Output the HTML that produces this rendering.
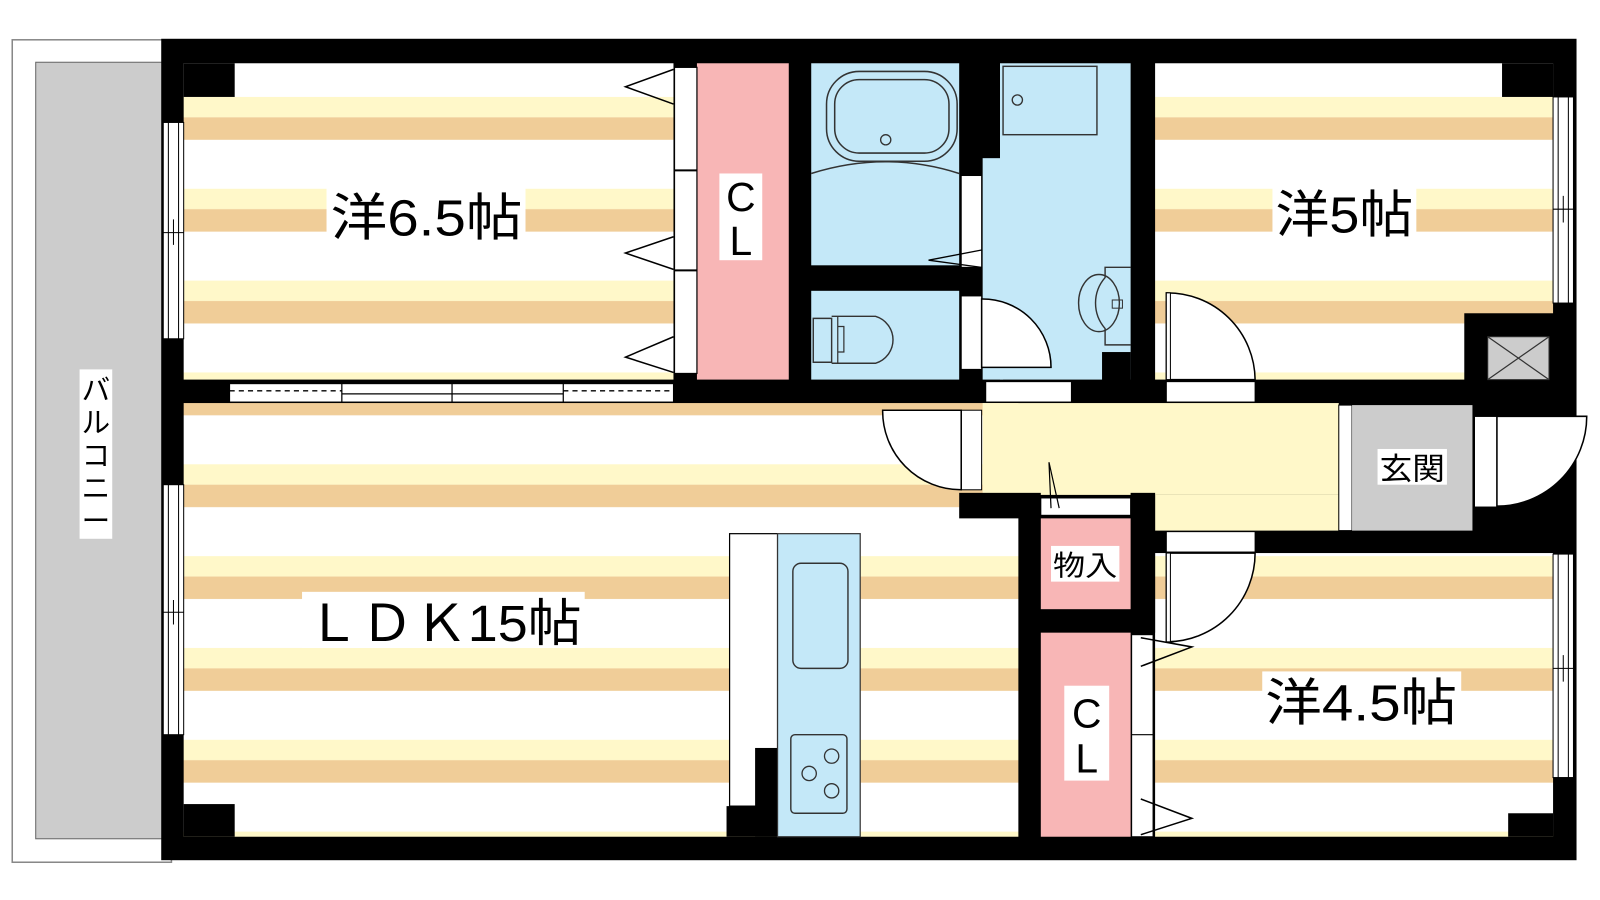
<!DOCTYPE html>
<html><head><meta charset="utf-8"><style>
html,body{margin:0;padding:0;background:#fff;width:1600px;height:900px;overflow:hidden}
svg{display:block}
text{font-family:"Liberation Sans","Noto Sans CJK JP",sans-serif;fill:#000}
</style></head><body>
<svg width="1600" height="900" viewBox="0 0 1568 882" xmlns="http://www.w3.org/2000/svg">
<defs>
<pattern id="s" x="0" y="5" width="20" height="90" patternUnits="userSpaceOnUse">
<rect x="0" y="0" width="20" height="90" fill="#fff"/>
<rect x="0" y="0" width="20" height="20" fill="#FFF8C9"/>
<rect x="0" y="20" width="20" height="22" fill="#F0CD98"/>
</pattern>
</defs>
<!-- balcony -->
<rect x="12" y="39" width="156" height="806" fill="#fff" stroke="#888" stroke-width="1.5"/>
<rect x="35" y="61" width="125" height="761" fill="#ccc" stroke="#666" stroke-width="1"/>
<rect x="78" y="362" width="32" height="166" fill="#fff"/>
<text font-size="28" x="94" y="392" text-anchor="middle">バ</text>
<text font-size="28" x="94" y="424" text-anchor="middle">ル</text>
<text font-size="28" x="94" y="456" text-anchor="middle">コ</text>
<text font-size="28" x="94" y="488" text-anchor="middle">ニ</text>
<text font-size="28" x="94" y="520" text-anchor="middle">ー</text>

<!-- black base -->
<rect x="158" y="38" width="1387" height="805" fill="#000"/>

<!-- room 6.5 -->
<rect x="180" y="62" width="480" height="310" fill="url(#s)"/>
<rect x="180" y="62" width="50" height="33" fill="#000"/>
<!-- LDK -->
<rect x="180" y="395" width="818" height="425" fill="url(#s)"/>
<rect x="180" y="788" width="50" height="32" fill="#000"/>
<!-- room 5 -->
<rect x="1132" y="62" width="390" height="310" fill="url(#s)"/>
<rect x="1472" y="62" width="50" height="33" fill="#000"/>
<rect x="1435" y="307" width="90" height="88" fill="#000"/>
<rect x="1458" y="330" width="60" height="42" fill="#ccc" stroke="#333"/>
<path d="M1458 330 L1518 372 M1518 330 L1458 372" stroke="#333" stroke-width="1.2"/>
<!-- room 4.5 -->
<rect x="1132" y="542" width="390" height="278" fill="url(#s)"/>
<rect x="1478" y="797" width="44" height="23" fill="#000"/>

<!-- CL 1 -->
<rect x="683" y="62" width="90" height="310" fill="#F8B6B6"/>
<rect x="661" y="66" width="22" height="300" fill="#fff" stroke="#000" stroke-width="1.2"/>
<path d="M661 167 H683 M661 265 H683" stroke="#000" stroke-width="2"/>
<polyline points="660,68 613,85 660,102" fill="none" stroke="#000" stroke-width="1.5"/>
<polyline points="660,232 613,248 660,264" fill="none" stroke="#000" stroke-width="1.5"/>
<polyline points="660,330 613,350 660,365" fill="none" stroke="#000" stroke-width="1.5"/>

<!-- bath -->
<rect x="795" y="62" width="145" height="198" fill="#C4E8F8"/>
<rect x="810" y="70" width="128" height="88" rx="32" fill="none" stroke="#333" stroke-width="1.5"/>
<rect x="818" y="78" width="112" height="72" rx="24" fill="none" stroke="#333" stroke-width="1.5"/>
<circle cx="868" cy="137" r="5" fill="none" stroke="#333" stroke-width="1.3"/>
<path d="M795 170 Q868 147 940 170" fill="none" stroke="#333" stroke-width="1.5"/>
<rect x="942" y="172" width="20" height="90" fill="#fff" stroke="#000" stroke-width="1"/>
<polyline points="962,245 910,255 962,262" fill="none" stroke="#000" stroke-width="1.3"/>
<!-- toilet -->
<rect x="795" y="285" width="145" height="87" fill="#C4E8F8"/>
<path d="M797 312 H815 V355 H797 Z" fill="none" stroke="#333" stroke-width="1.4"/>
<path d="M815 310 H858 A24 24 0 0 1 858 356 H815" fill="none" stroke="#333" stroke-width="1.4"/>
<path d="M821 310 V356 M821 320 H827 V345 H821" fill="none" stroke="#333" stroke-width="1.2"/>
<!-- washroom -->
<rect x="980" y="62" width="128" height="310" fill="#C4E8F8"/>
<rect x="963" y="155" width="20" height="217" fill="#C4E8F8"/>
<rect x="983" y="65" width="92" height="67" fill="none" stroke="#333" stroke-width="1.4"/>
<circle cx="997" cy="98" r="5" fill="none" stroke="#333" stroke-width="1.3"/>
<path d="M1108 262 H1083 V272 A38 38 0 0 0 1083 322 V338 H1108" fill="none" stroke="#333" stroke-width="1.4"/>
<ellipse cx="1077" cy="297" rx="20" ry="28" fill="none" stroke="#333" stroke-width="1.4"/>
<rect x="1090" y="294" width="10" height="8" fill="none" stroke="#333"/>
<rect x="1080" y="345" width="28" height="30" fill="#000"/>
<!-- toilet door -->
<rect x="942" y="290" width="20" height="72" fill="#fff" stroke="#000" stroke-width="1"/>
<path d="M962 293 A67 67 0 0 1 1030 360 L962 360 Z" fill="#fff" stroke="#000" stroke-width="1.5"/>
<path d="M962 293 V360" stroke="#000" stroke-width="1"/>

<!-- horizontal wall openings -->
<rect x="225" y="376" width="435" height="18" fill="#fff" stroke="#000" stroke-width="1"/>
<path d="M225 383 H335 M552 383 H660" stroke="#000" stroke-width="1.3" stroke-dasharray="5,4"/>
<path d="M335 376 V394 M443 376 V394 M552 376 V394 M335 386 H552" stroke="#000" stroke-width="1.2"/>
<rect x="966" y="374" width="84" height="20" fill="#fff" stroke="#000" stroke-width="1"/>
<rect x="1143" y="374" width="87" height="20" fill="#fff" stroke="#000" stroke-width="1"/>
<!-- room5 door -->
<path d="M1143 287 A86 86 0 0 1 1230 372 L1143 372 Z" fill="#fff" stroke="#000" stroke-width="1.5"/>
<rect x="1143" y="287" width="4" height="85" fill="#fff" stroke="#000" stroke-width="1"/>

<!-- left windows -->
<rect x="160" y="120" width="20" height="212" fill="#fff" stroke="#000" stroke-width="1"/>
<path d="M165 120 V332 M175 120 V332 M160 228 H180 M170 215 V240" stroke="#000" stroke-width="1"/>
<rect x="160" y="475" width="20" height="245" fill="#fff" stroke="#000" stroke-width="1"/>
<path d="M165 475 V720 M175 475 V720 M160 600 H180 M170 588 V612" stroke="#000" stroke-width="1"/>
<!-- right windows -->
<rect x="1522" y="95" width="20" height="202" fill="#fff" stroke="#000" stroke-width="1"/>
<path d="M1527 95 V297 M1537 95 V297 M1522 205 H1542 M1532 192 V218" stroke="#000" stroke-width="1"/>
<rect x="1522" y="543" width="20" height="219" fill="#fff" stroke="#000" stroke-width="1"/>
<path d="M1527 543 V762 M1537 543 V762 M1522 655 H1542 M1532 642 V668" stroke="#000" stroke-width="1"/>

<!-- hallway -->
<rect x="963" y="395" width="349" height="90" fill="#FFF8C9"/>
<rect x="1132" y="485" width="180" height="35" fill="#FFF8C9"/>
<rect x="940" y="483" width="80" height="25" fill="#000"/>
<rect x="1108" y="483" width="24" height="137" fill="#000"/>
<rect x="1020" y="488" width="88" height="17" fill="#fff" stroke="#000" stroke-width="1"/>
<polyline points="1030,498 1028,453 1038,498" fill="none" stroke="#000" stroke-width="1.2"/>
<rect x="1312" y="397" width="13" height="123" fill="#fff" stroke="#000" stroke-width="1"/>
<rect x="1325" y="397" width="118" height="123" fill="#ccc"/>
<!-- LDK door -->
<rect x="942" y="402" width="20" height="78" fill="#fff" stroke="#000" stroke-width="1"/>
<path d="M942 402 L865 402 A77 77 0 0 0 942 480 Z" fill="#fff" stroke="#000" stroke-width="1.5"/>
<!-- entrance door -->
<rect x="1445" y="408" width="22" height="89" fill="#fff" stroke="#000" stroke-width="1"/>
<path d="M1467 408 L1555 408 A88 88 0 0 1 1467 496 Z" fill="#fff" stroke="#000" stroke-width="1.5"/>
<rect x="1445" y="408" width="22" height="89" fill="none" stroke="#000" stroke-width="1"/>

<!-- 物入 -->
<rect x="1020" y="508" width="88" height="89" fill="#F8B6B6"/>
<!-- CL2 -->
<rect x="1020" y="620" width="88" height="200" fill="#F8B6B6"/>
<rect x="1109" y="622" width="21" height="198" fill="#fff" stroke="#000" stroke-width="1"/>
<path d="M1109 720 H1130" stroke="#000" stroke-width="1.2"/>
<polyline points="1118,625 1168,634 1118,653" fill="none" stroke="#000" stroke-width="1.5"/>
<polyline points="1118,783 1168,802 1118,818" fill="none" stroke="#000" stroke-width="1.5"/>
<!-- 4.5 door -->
<rect x="1143" y="521" width="87" height="20" fill="#fff" stroke="#000" stroke-width="1"/>
<path d="M1143 542 L1230 542 A87 87 0 0 1 1143 629 Z" fill="#fff" stroke="#000" stroke-width="1.5"/>
<rect x="1143" y="542" width="4" height="87" fill="#fff" stroke="#000" stroke-width="1"/>

<!-- kitchen -->
<rect x="715" y="523" width="47" height="267" fill="#fff" stroke="#000" stroke-width="1.2"/>
<rect x="740" y="733" width="22" height="87" fill="#000"/>
<rect x="712" y="790" width="50" height="30" fill="#000"/>
<rect x="762" y="523" width="81" height="297" fill="#C4E8F8" stroke="#333" stroke-width="1.2"/>
<rect x="777" y="552" width="54" height="103" rx="8" fill="none" stroke="#333" stroke-width="1.4"/>
<rect x="775" y="720" width="55" height="77" rx="4" fill="none" stroke="#333" stroke-width="1.4"/>
<g fill="none" stroke="#333" stroke-width="1.3">
<circle cx="815" cy="741" r="7"/><circle cx="793" cy="758" r="7"/><circle cx="815" cy="775" r="7"/>
</g>

<!-- labels -->
<rect x="320" y="183" width="195" height="54" fill="#fff"/>
<text x="324" y="231" font-size="50" textLength="188" lengthAdjust="spacingAndGlyphs">洋6.5帖</text>
<rect x="705" y="170" width="42" height="85" fill="#fff"/>
<text x="726" y="207" font-size="40" text-anchor="middle">C</text>
<text x="726" y="250" font-size="40" text-anchor="middle">L</text>
<rect x="1247" y="180" width="141" height="55" fill="#fff"/>
<text x="1250" y="228" font-size="50" textLength="135" lengthAdjust="spacingAndGlyphs">洋5帖</text>
<rect x="296" y="580" width="277" height="55" fill="#fff"/>
<text x="300" y="628" font-size="50" textLength="270" lengthAdjust="spacingAndGlyphs">ＬＤＫ15帖</text>
<rect x="1237" y="658" width="195" height="54" fill="#fff"/>
<text x="1240" y="706" font-size="50" textLength="188" lengthAdjust="spacingAndGlyphs">洋4.5帖</text>
<rect x="1043" y="672" width="44" height="93" fill="#fff"/>
<text x="1065" y="713" font-size="40" text-anchor="middle">C</text>
<text x="1065" y="757" font-size="40" text-anchor="middle">L</text>
<rect x="1030" y="535" width="67" height="35" fill="#fff"/>
<text x="1032" y="564" font-size="28" textLength="63" lengthAdjust="spacingAndGlyphs">物入</text>
<rect x="1350" y="440" width="68" height="35" fill="#fff"/>
<text x="1352" y="470" font-size="30" textLength="64" lengthAdjust="spacingAndGlyphs">玄関</text>
</svg>
</body></html>
